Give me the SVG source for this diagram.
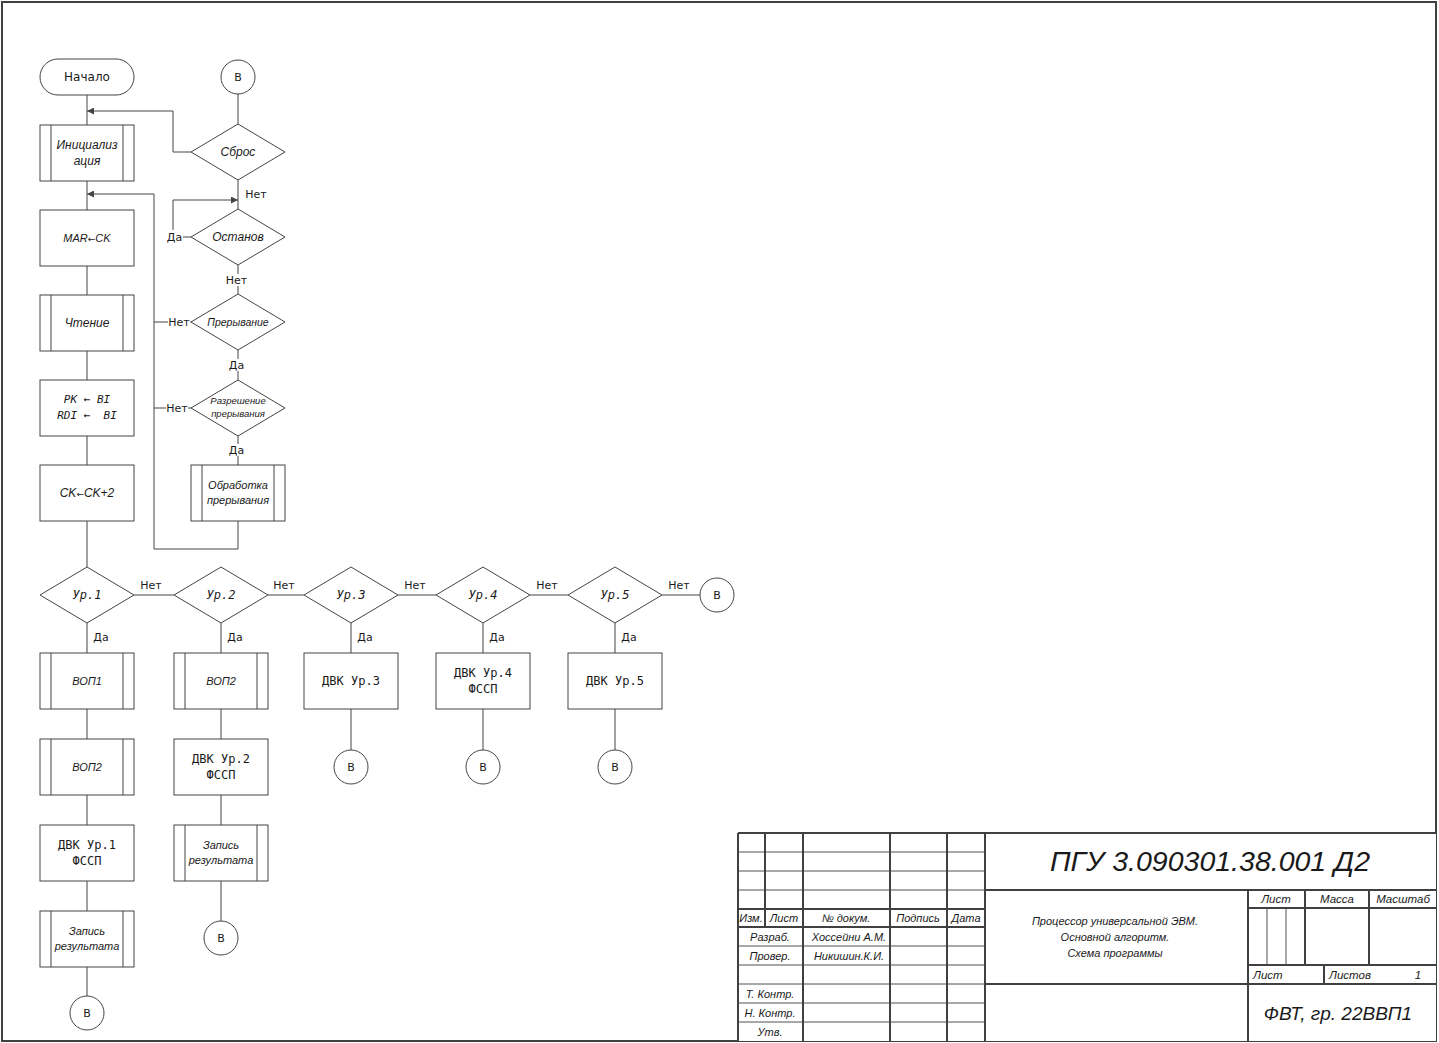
<svg xmlns="http://www.w3.org/2000/svg" width="1439" height="1043" viewBox="0 0 1439 1043">
<style>
.sh{fill:#fff;stroke:#454545;stroke-width:1}
.ln{fill:none;stroke:#454545;stroke-width:1}
.fr{fill:none;stroke:#404040;stroke-width:2}
.th{fill:none;stroke:#505050;stroke-width:1}
.bg{fill:#fff}
text{fill:#1a1a1a}
.s{font-family:"DejaVu Sans","Noto Sans",sans-serif;font-size:11px;text-anchor:middle}
.st{font-family:"DejaVu Sans","Noto Sans",sans-serif;font-size:12px;text-anchor:middle}
.i{font-family:"Liberation Sans",Arial,sans-serif;font-style:italic;font-size:12px;text-anchor:middle}
.m{font-family:"DejaVu Sans Mono","Liberation Mono",monospace;font-size:12px;text-anchor:middle}
.mi{font-family:"DejaVu Sans Mono","Liberation Mono",monospace;font-style:italic;font-size:12px;text-anchor:middle}
.tb{font-family:"Liberation Sans",Arial,sans-serif;font-style:italic;font-size:11px;text-anchor:middle}
.tl{font-family:"Liberation Sans",Arial,sans-serif;font-style:italic;font-size:11.5px}
.ar{font-family:"DejaVu Sans",sans-serif;font-style:normal}
</style>
<defs>
<marker id="ah" viewBox="0 0 10 10" refX="10" refY="5" markerWidth="10" markerHeight="7" markerUnits="userSpaceOnUse" orient="auto">
<path d="M0,0 L10,5 L0,10 z" fill="#454545"/>
</marker>
</defs>
<rect width="1439" height="1043" fill="#fff"/>

<!-- sheet frame -->
<g id="frame">
<rect class="fr" x="2" y="2" width="1434" height="1039"/>
</g>

<!-- connectors -->
<g id="connectors">
<path class="ln" d="M87,95 V125 M87,181 V210 M87,266 V295 M87,351 V380 M87,436 V465 M87,521 V567"/>
<path class="ln" d="M134,595 H174 M268,595 H304 M398,595 H436 M530,595 H568 M662,595 H700"/>
<path class="ln" d="M87,623 V653 M221,623 V653 M351,623 V653 M483,623 V653 M615,623 V653"/>
<path class="ln" d="M87,709 V739 M87,795 V825 M87,881 V911 M87,967 V996"/>
<path class="ln" d="M221,709 V739 M221,795 V825 M221,881 V921"/>
<path class="ln" d="M351,709 V750 M483,709 V750 M615,709 V750"/>
<path class="ln" d="M238,94 V124 M238,180 V209 M238,265 V294 M238,350 V380 M238,436 V465"/>
<path class="ln" d="M191,152 H173 V111 H87" marker-end="url(#ah)"/>
<path class="ln" d="M191,237 H173 V200 H238" marker-end="url(#ah)"/>
<path class="ln" d="M238,521 V549 H154 V194 H87" marker-end="url(#ah)"/>
<path class="ln" d="M191,322 H154 M191,408 H154"/>
<!-- labels -->
<text class="s" x="256" y="198">Нет</text>
<rect class="bg" x="166" y="230" width="17" height="14"/>
<text class="s" x="174.5" y="241">Да</text>
<rect class="bg" x="226" y="274" width="21" height="12"/>
<text class="s" x="236.5" y="284">Нет</text>
<rect class="bg" x="228" y="359" width="17" height="12"/>
<text class="s" x="236.5" y="369">Да</text>
<rect class="bg" x="228" y="444" width="17" height="12"/>
<text class="s" x="236.5" y="454">Да</text>
<rect class="bg" x="168" y="316" width="22" height="12"/>
<text class="s" x="179" y="326">Нет</text>
<rect class="bg" x="166" y="402" width="22" height="12"/>
<text class="s" x="177" y="412">Нет</text>
<text class="s" x="151" y="589">Нет</text>
<text class="s" x="284" y="589">Нет</text>
<text class="s" x="415" y="589">Нет</text>
<text class="s" x="547" y="589">Нет</text>
<text class="s" x="679" y="589">Нет</text>
<text class="s" x="101" y="641">Да</text>
<text class="s" x="235" y="641">Да</text>
<text class="s" x="365" y="641">Да</text>
<text class="s" x="497" y="641">Да</text>
<text class="s" x="629" y="641">Да</text>
</g>

<!-- main column -->
<g id="start">
<rect class="sh" x="40" y="59" width="94" height="36" rx="18"/>
<text class="st" x="87" y="81">Начало</text>
</g>
<g id="init">
<rect class="sh" x="40" y="125" width="94" height="56"/>
<path class="ln" d="M51,125 V181 M123,125 V181"/>
<text class="i" x="87" y="149">Инициализ</text>
<text class="i" x="87" y="165">ация</text>
</g>
<g id="mar">
<rect class="sh" x="40" y="210" width="94" height="56"/>
<text class="i" x="87" y="242" style="font-size:11px">MAR<tspan class="ar" style="font-size:9px">←</tspan>CK</text>
</g>
<g id="read">
<rect class="sh" x="40" y="295" width="94" height="56"/>
<path class="ln" d="M51,295 V351 M123,295 V351"/>
<text class="i" x="87" y="327">Чтение</text>
</g>
<g id="pkbi">
<rect class="sh" x="40" y="380" width="94" height="56"/>
<text class="mi" x="87" y="403" style="font-size:11px" xml:space="preserve">PK ← BI</text>
<text class="mi" x="87" y="419" style="font-size:11px" xml:space="preserve">RDI ←  BI</text>
</g>
<g id="ckinc">
<rect class="sh" x="40" y="465" width="94" height="56"/>
<text class="i" x="87" y="497">CK<tspan class="ar" style="font-size:9px">←</tspan>CK+2</text>
</g>

<!-- right column -->
<g id="b_top">
<circle class="sh" cx="238" cy="77" r="17"/>
<text class="s" x="238" y="81">В</text>
</g>
<g id="sbros">
<path class="sh" d="M191,152 L238,124 L285,152 L238,180 Z"/>
<text class="i" x="238" y="156">Сброс</text>
</g>
<g id="ostanov">
<path class="sh" d="M191,237 L238,209 L285,237 L238,265 Z"/>
<text class="i" x="238" y="241">Останов</text>
</g>
<g id="prer">
<path class="sh" d="M191,322 L238,294 L285,322 L238,350 Z"/>
<text class="i" x="238" y="326" style="font-size:10.5px">Прерывание</text>
</g>
<g id="razr">
<path class="sh" d="M191,408 L238,380 L285,408 L238,436 Z"/>
<text class="i" x="238" y="404" style="font-size:9.5px">Разрешение</text>
<text class="i" x="238" y="417" style="font-size:9.5px">прерывания</text>
</g>
<g id="obr">
<rect class="sh" x="191" y="465" width="94" height="56"/>
<path class="ln" d="M202,465 V521 M274,465 V521"/>
<text class="i" x="238" y="489" style="font-size:11px">Обработка</text>
<text class="i" x="238" y="504" style="font-size:11px">прерывания</text>
</g>

<!-- level decisions -->
<g id="ur1">
<path class="sh" d="M40,595 L87,567 L134,595 L87,623 Z"/>
<text class="mi" x="87" y="599">Ур.1</text>
</g>
<g id="ur2">
<path class="sh" d="M174,595 L221,567 L268,595 L221,623 Z"/>
<text class="mi" x="221" y="599">Ур.2</text>
</g>
<g id="ur3">
<path class="sh" d="M304,595 L351,567 L398,595 L351,623 Z"/>
<text class="mi" x="351" y="599">Ур.3</text>
</g>
<g id="ur4">
<path class="sh" d="M436,595 L483,567 L530,595 L483,623 Z"/>
<text class="mi" x="483" y="599">Ур.4</text>
</g>
<g id="ur5">
<path class="sh" d="M568,595 L615,567 L662,595 L615,623 Z"/>
<text class="mi" x="615" y="599">Ур.5</text>
</g>
<g id="b_right">
<circle class="sh" cx="717" cy="595" r="17"/>
<text class="s" x="717" y="599">В</text>
</g>

<!-- column 1 -->
<g id="vop1">
<rect class="sh" x="40" y="653" width="94" height="56"/>
<path class="ln" d="M51,653 V709 M123,653 V709"/>
<text class="i" x="87" y="685" style="font-size:11px">ВОП1</text>
</g>
<g id="vop2a">
<rect class="sh" x="40" y="739" width="94" height="56"/>
<path class="ln" d="M51,739 V795 M123,739 V795"/>
<text class="i" x="87" y="771" style="font-size:11px">ВОП2</text>
</g>
<g id="dvk1">
<rect class="sh" x="40" y="825" width="94" height="56"/>
<text class="m" x="87" y="849">ДВК Ур.1</text>
<text class="m" x="87" y="865">ФССП</text>
</g>
<g id="zap1">
<rect class="sh" x="40" y="911" width="94" height="56"/>
<path class="ln" d="M51,911 V967 M123,911 V967"/>
<text class="i" x="87" y="935" style="font-size:11px">Запись</text>
<text class="i" x="87" y="950" style="font-size:11px">результата</text>
</g>
<g id="b1">
<circle class="sh" cx="87" cy="1013" r="17"/>
<text class="s" x="87" y="1017">В</text>
</g>

<!-- column 2 -->
<g id="vop2b">
<rect class="sh" x="174" y="653" width="94" height="56"/>
<path class="ln" d="M185,653 V709 M257,653 V709"/>
<text class="i" x="221" y="685" style="font-size:11px">ВОП2</text>
</g>
<g id="dvk2">
<rect class="sh" x="174" y="739" width="94" height="56"/>
<text class="m" x="221" y="763">ДВК Ур.2</text>
<text class="m" x="221" y="779">ФССП</text>
</g>
<g id="zap2">
<rect class="sh" x="174" y="825" width="94" height="56"/>
<path class="ln" d="M185,825 V881 M257,825 V881"/>
<text class="i" x="221" y="849" style="font-size:11px">Запись</text>
<text class="i" x="221" y="864" style="font-size:11px">результата</text>
</g>
<g id="b2">
<circle class="sh" cx="221" cy="938" r="17"/>
<text class="s" x="221" y="942">В</text>
</g>

<!-- columns 3-5 -->
<g id="dvk3">
<rect class="sh" x="304" y="653" width="94" height="56"/>
<text class="m" x="351" y="685">ДВК Ур.3</text>
</g>
<g id="b3">
<circle class="sh" cx="351" cy="767" r="17"/>
<text class="s" x="351" y="771">В</text>
</g>
<g id="dvk4">
<rect class="sh" x="436" y="653" width="94" height="56"/>
<text class="m" x="483" y="677">ДВК Ур.4</text>
<text class="m" x="483" y="693">ФССП</text>
</g>
<g id="b4">
<circle class="sh" cx="483" cy="767" r="17"/>
<text class="s" x="483" y="771">В</text>
</g>
<g id="dvk5">
<rect class="sh" x="568" y="653" width="94" height="56"/>
<text class="m" x="615" y="685">ДВК Ур.5</text>
</g>
<g id="b5">
<circle class="sh" cx="615" cy="767" r="17"/>
<text class="s" x="615" y="771">В</text>
</g>

<!-- title block -->
<g id="stamp">
<rect class="bg" x="738" y="833" width="698" height="208"/>
<path class="th" stroke="#8a8a8a" d="M738,852 H985 M738,871 H985 M738,890 H985"/>
<path class="th" d="M738,946 H985 M738,965 H985 M738,984 H985 M738,1003 H985 M738,1022 H985"/>
<path class="fr" d="M738,833 H1436 M738,909 H985 M738,927 H985"/>
<path class="fr" d="M738,833 V1041 M765,833 V927 M803,833 V1041 M890,833 V1041 M947,833 V1041 M985,833 V1041"/>
<path class="fr" d="M985,890 H1436 M985,984 H1436 M1248,890 V1041"/>
<path class="fr" d="M1248,908 H1436 M1248,965 H1436 M1305,890 V965 M1369,890 V965 M1324,965 V984"/>
<path class="th" d="M1267,908 V965 M1286,908 V965"/>
<text class="tb" x="751" y="922">Изм.</text>
<text class="tb" x="784" y="922">Лист</text>
<text class="tb" x="846" y="922">№ докум.</text>
<text class="tb" x="918" y="922">Подпись</text>
<text class="tb" x="966" y="922">Дата</text>
<text class="tb" x="770" y="941">Разраб.</text>
<text class="tb" x="849" y="941">Хоссейни А.М.</text>
<text class="tb" x="770" y="960">Провер.</text>
<text class="tb" x="849" y="960">Никишин.К.И.</text>
<text class="tb" x="770" y="998">Т. Контр.</text>
<text class="tb" x="770" y="1017">Н. Контр.</text>
<text class="tb" x="770" y="1036">Утв.</text>
<text class="tb" x="1210" y="871" style="font-size:28.5px">ПГУ 3.090301.38.001 Д2</text>
<text class="tb" x="1115" y="925">Процессор универсальной ЭВМ.</text>
<text class="tb" x="1115" y="941">Основной алгоритм.</text>
<text class="tb" x="1115" y="957">Схема программы</text>
<text class="tl" x="1276" y="903" style="text-anchor:middle">Лист</text>
<text class="tl" x="1337" y="903" style="text-anchor:middle">Масса</text>
<text class="tl" x="1403" y="903" style="text-anchor:middle">Масштаб</text>
<text class="tl" x="1253" y="979">Лист</text>
<text class="tl" x="1329" y="979">Листов</text>
<text class="tl" x="1418" y="979" style="text-anchor:middle">1</text>
<text class="tb" x="1338" y="1020" style="font-size:19px">ФВТ, гр. 22ВВП1</text>
</g>
</svg>
